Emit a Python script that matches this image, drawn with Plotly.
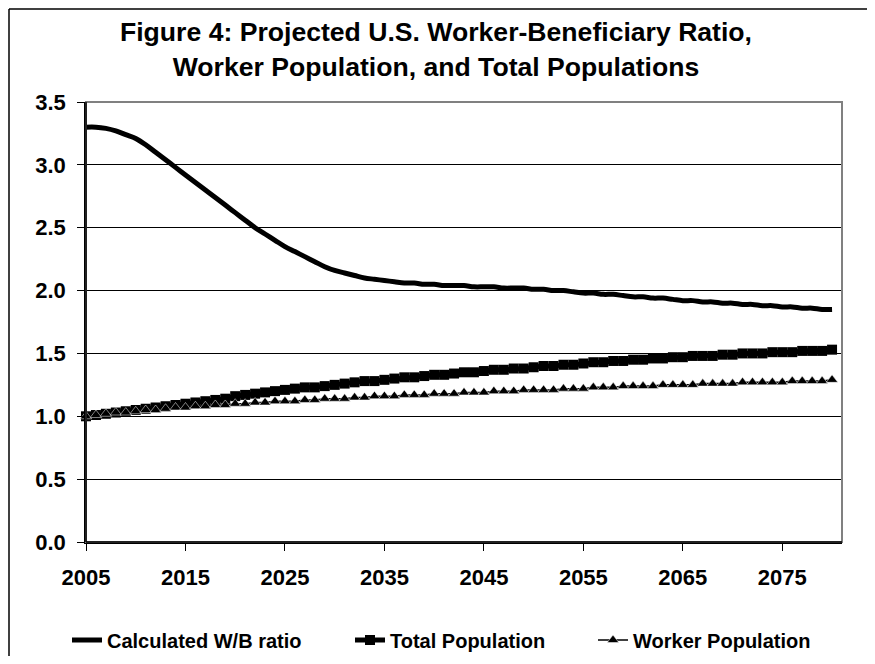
import plotly.graph_objects as go

years = list(range(2005, 2081))

wb_ratio = [3.30, 3.30, 3.29, 3.27, 3.24, 3.21, 3.16, 3.10, 3.04, 2.98,
            2.92, 2.86, 2.80, 2.74, 2.68, 2.62, 2.56, 2.50, 2.45, 2.40,
            2.35, 2.31, 2.27, 2.23, 2.19, 2.16, 2.14, 2.12, 2.10, 2.09,
            2.08, 2.07, 2.06, 2.06, 2.05, 2.05, 2.04, 2.04, 2.04, 2.03,
            2.03, 2.03, 2.02, 2.02, 2.02, 2.01, 2.01, 2.00, 2.00, 1.99,
            1.98, 1.98, 1.97, 1.97, 1.96, 1.95, 1.95, 1.94, 1.94, 1.93,
            1.92, 1.92, 1.91, 1.91, 1.90, 1.90, 1.89, 1.89, 1.88, 1.88,
            1.87, 1.87, 1.86, 1.86, 1.85, 1.85]

total_pop = [1.00, 1.01, 1.02, 1.03, 1.04, 1.05, 1.06, 1.07, 1.08, 1.09,
             1.10, 1.11, 1.12, 1.13, 1.14, 1.16, 1.17, 1.18, 1.19, 1.20,
             1.21, 1.22, 1.23, 1.23, 1.24, 1.25, 1.26, 1.27, 1.28, 1.28,
             1.29, 1.30, 1.31, 1.31, 1.32, 1.33, 1.33, 1.34, 1.35, 1.35,
             1.36, 1.37, 1.37, 1.38, 1.38, 1.39, 1.40, 1.40, 1.41, 1.41,
             1.42, 1.43, 1.43, 1.44, 1.44, 1.45, 1.45, 1.46, 1.46, 1.47,
             1.47, 1.48, 1.48, 1.48, 1.49, 1.49, 1.50, 1.50, 1.50, 1.51,
             1.51, 1.51, 1.52, 1.52, 1.52, 1.53]

worker_pop = [1.00, 1.01, 1.02, 1.03, 1.03, 1.04, 1.05, 1.05, 1.06, 1.07,
              1.07, 1.08, 1.08, 1.09, 1.09, 1.10, 1.10, 1.11, 1.11, 1.12,
              1.12, 1.12, 1.13, 1.13, 1.14, 1.14, 1.14, 1.15, 1.15, 1.16,
              1.16, 1.16, 1.17, 1.17, 1.17, 1.18, 1.18, 1.18, 1.19, 1.19,
              1.19, 1.20, 1.20, 1.20, 1.21, 1.21, 1.21, 1.21, 1.22, 1.22,
              1.22, 1.23, 1.23, 1.23, 1.24, 1.24, 1.24, 1.24, 1.25, 1.25,
              1.25, 1.25, 1.26, 1.26, 1.26, 1.26, 1.27, 1.27, 1.27, 1.27,
              1.27, 1.28, 1.28, 1.28, 1.28, 1.29]

x_ticks = [2005, 2015, 2025, 2035, 2045, 2055, 2065, 2075]
y_ticks = [0.0, 0.5, 1.0, 1.5, 2.0, 2.5, 3.0, 3.5]

FONT = "Liberation Sans, Arial, sans-serif"
W, H = 859, 648
ML, MR, MT, MB = 78, 25, 94, 114
PW, PH = W - ML - MR, H - MT - MB

fig = go.Figure()
fig.add_trace(go.Scatter(
    x=years, y=wb_ratio, name="Calculated W/B ratio", mode="lines",
    line=dict(color="black", width=5, shape="spline", smoothing=1),
    legend="legend",
))
fig.add_trace(go.Scatter(
    x=years, y=total_pop, name="Total Population", mode="lines+markers",
    line=dict(color="black", width=5),
    marker=dict(symbol="square", size=10, color="black"),
    cliponaxis=False, legend="legend2",
))
fig.add_trace(go.Scatter(
    x=years, y=worker_pop, name="Worker Population", mode="lines+markers",
    line=dict(color="black", width=1.5),
    marker=dict(symbol="triangle-up", size=10, color="black",
                line=dict(color="white", width=0.5)),
    cliponaxis=False, legend="legend3",
))

leg_font = dict(family=FONT, size=20, color="black", weight="bold")
leg_common = dict(orientation="h", xanchor="left", yanchor="middle",
                  y=-(632 - 534) / PH,
                  font=leg_font, bgcolor="rgba(0,0,0,0)")

fig.update_layout(
    width=W, height=H,
    margin=dict(l=ML, r=MR, t=MT, b=MB, autoexpand=False),
    paper_bgcolor="white", plot_bgcolor="white",
    font=dict(family=FONT, size=20, color="black"),
    title=dict(
        text="Figure 4: Projected U.S. Worker-Beneficiary Ratio,<br>Worker Population, and Total Populations",
        x=428 / W, xanchor="center", xref="container",
        y=1 - 33 / H, yanchor="middle", yref="container",
        font=dict(family=FONT, size=26.6, color="black", weight="bold"),
    ),
    showlegend=True,
    legend=dict(x=(59 - ML) / PW, **leg_common),
    legend2=dict(x=(342 - ML) / PW, **leg_common),
    legend3=dict(x=(585 - ML) / PW, **leg_common),
    xaxis=dict(
        range=[2005, 2081], tickvals=x_ticks,
        showgrid=False, zeroline=False,
        showline=True, linecolor="black", linewidth=1.5,
        ticks="outside", ticklen=7, tickcolor="black", tickwidth=1,
        ticklabelstandoff=8, automargin=False,
        tickfont=dict(family=FONT, size=22, color="black", weight="bold"),
    ),
    yaxis=dict(
        range=[0, 3.5], tickvals=y_ticks, tickformat=".1f",
        showgrid=True, gridcolor="black", gridwidth=1, zeroline=False,
        showline=True, linecolor="black", linewidth=1.5,
        ticks="outside", ticklen=7, tickcolor="black", tickwidth=1,
        ticklabelstandoff=7, automargin=False,
        tickfont=dict(family=FONT, size=22, color="black", weight="bold"),
    ),
    shapes=[
        dict(type="rect", xref="paper", yref="paper", x0=0, x1=1, y0=0, y1=1,
             line=dict(color="#808080", width=2), layer="above"),
        dict(type="line", xref="paper", yref="paper", x0=0, x1=0, y0=0, y1=1,
             line=dict(color="black", width=1.5), layer="above"),
        dict(type="line", xref="paper", yref="paper", x0=0, x1=1, y0=0, y1=0,
             line=dict(color="black", width=1.5), layer="above"),
        # outer chart border (left and top edges visible in the frame)
        dict(type="line", xref="paper", yref="paper",
             x0=(1 - ML) / PW, x1=(1 - ML) / PW,
             y0=-(MB + 20) / PH, y1=1 + (MT - 1) / PH,
             line=dict(color="black", width=1.5), layer="below"),
        dict(type="line", xref="paper", yref="paper",
             x0=(1 - ML) / PW, x1=1 + (MR + 20) / PW,
             y0=1 + (MT - 1) / PH, y1=1 + (MT - 1) / PH,
             line=dict(color="black", width=1.5), layer="below"),
    ],
)

fig.write_html("out.html")
